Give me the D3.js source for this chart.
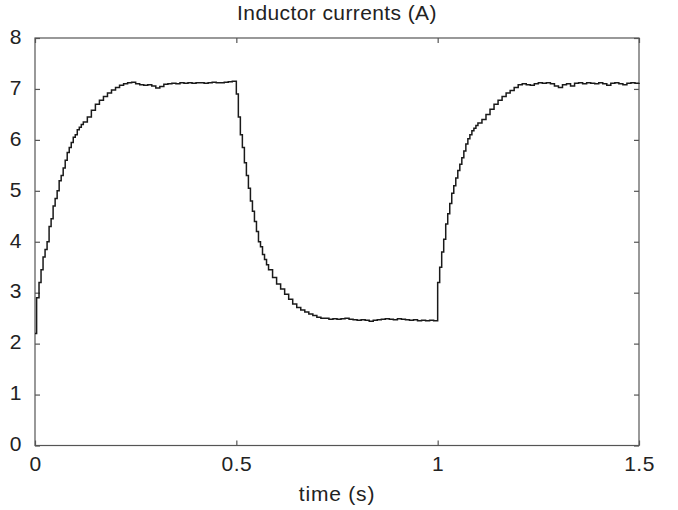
<!DOCTYPE html>
<html>
<head>
<meta charset="utf-8">
<script src="https://cdn.jsdelivr.net/npm/d3@7"></script>
<style>
  body { margin: 0; background: #fff; }
  #chart { width: 678px; height: 510px; }
  text { font-family: "Liberation Sans", Arial, sans-serif; fill: #222; }
</style>
</head>
<body>
<div id="chart"></div>
<script>
var timeS = [
  0.000, 0.004, 0.010, 0.015, 0.020, 0.025, 0.030, 0.035, 0.040, 0.045,
  0.050, 0.055, 0.060, 0.065, 0.070, 0.075, 0.080, 0.085, 0.090, 0.095,
  0.100, 0.105, 0.110, 0.115, 0.120, 0.130, 0.140, 0.150, 0.160, 0.170,
  0.180, 0.190, 0.200, 0.210, 0.220, 0.230, 0.240, 0.250, 0.260, 0.270,
  0.280, 0.290, 0.300, 0.310, 0.320, 0.330, 0.340, 0.350, 0.360, 0.370,
  0.380, 0.390, 0.400, 0.410, 0.420, 0.430, 0.440, 0.450, 0.460, 0.470,
  0.480, 0.490, 0.500, 0.505, 0.510, 0.515, 0.520, 0.525, 0.530, 0.535,
  0.540, 0.545, 0.550, 0.555, 0.560, 0.565, 0.570, 0.575, 0.580, 0.590,
  0.600, 0.610, 0.620, 0.630, 0.640, 0.650, 0.660, 0.670, 0.680, 0.690,
  0.700, 0.710, 0.720, 0.730, 0.740, 0.750, 0.760, 0.770, 0.780, 0.790,
  0.800, 0.810, 0.820, 0.830, 0.840, 0.850, 0.860, 0.870, 0.880, 0.890,
  0.900, 0.910, 0.920, 0.930, 0.940, 0.950, 0.960, 0.970, 0.980, 0.990,
  1.000, 1.005, 1.010, 1.015, 1.020, 1.025, 1.030, 1.035, 1.040, 1.045,
  1.050, 1.055, 1.060, 1.065, 1.070, 1.075, 1.080, 1.085, 1.090, 1.095,
  1.100, 1.110, 1.120, 1.130, 1.140, 1.150, 1.160, 1.170, 1.180, 1.190,
  1.200, 1.210, 1.220, 1.230, 1.240, 1.250, 1.260, 1.270, 1.280, 1.290,
  1.300, 1.310, 1.320, 1.330, 1.340, 1.350, 1.360, 1.370, 1.380, 1.390,
  1.400, 1.410, 1.420, 1.430, 1.440, 1.450, 1.460, 1.470, 1.480, 1.490,
  1.500
];
var currentA = [
  2.20, 2.90, 3.20, 3.45, 3.70, 3.85, 4.00, 4.30, 4.45, 4.70,
  4.85, 5.00, 5.20, 5.30, 5.45, 5.60, 5.75, 5.85, 5.95, 6.05,
  6.10, 6.20, 6.25, 6.30, 6.35, 6.45, 6.58, 6.70, 6.78, 6.85,
  6.92, 6.98, 7.03, 7.07, 7.10, 7.12, 7.13, 7.10, 7.08, 7.07,
  7.08, 7.06, 7.02, 7.05, 7.09, 7.10, 7.11, 7.10, 7.12, 7.11,
  7.12, 7.11, 7.12, 7.12, 7.11, 7.12, 7.13, 7.12, 7.12, 7.13,
  7.14, 7.15, 6.90, 6.45, 6.10, 5.85, 5.55, 5.30, 5.05, 4.80,
  4.60, 4.40, 4.20, 4.00, 3.90, 3.75, 3.65, 3.55, 3.45, 3.30,
  3.17, 3.07, 2.97, 2.87, 2.78, 2.71, 2.66, 2.62, 2.58, 2.55,
  2.52, 2.50, 2.50, 2.48, 2.49, 2.48, 2.49, 2.50, 2.48, 2.47,
  2.46, 2.47, 2.46, 2.44, 2.46, 2.47, 2.48, 2.49, 2.48, 2.47,
  2.49, 2.48, 2.47, 2.46, 2.47, 2.45, 2.46, 2.45, 2.46, 2.45,
  3.20, 3.50, 3.80, 4.05, 4.35, 4.55, 4.75, 4.95, 5.10, 5.25,
  5.40, 5.52, 5.65, 5.78, 5.92, 6.02, 6.10, 6.18, 6.23, 6.28,
  6.33, 6.40, 6.50, 6.60, 6.70, 6.78, 6.85, 6.92, 6.97, 7.03,
  7.08, 7.10, 7.08, 7.07, 7.10, 7.12, 7.11, 7.12, 7.10, 7.06,
  7.03, 7.08, 7.10, 7.06, 7.11, 7.12, 7.10, 7.12, 7.11, 7.10,
  7.12, 7.10, 7.07, 7.11, 7.12, 7.10, 7.08, 7.11, 7.12, 7.11,
  7.12
];

var xTicks = [0, 0.5, 1, 1.5];
var xTickLabels = ["0", "0.5", "1", "1.5"];
var yTicks = [0, 1, 2, 3, 4, 5, 6, 7, 8];

var chartTitle = "Inductor currents (A)";
var xTitle = "time (s)";

var width = 678, height = 510;
var margin = {top: 38, right: 39, bottom: 64.5, left: 35};
var w = width - margin.left - margin.right;
var h = height - margin.top - margin.bottom;

var svg = d3.select("#chart")
  .append("svg")
  .attr("width", width)
  .attr("height", height);

var g = svg.append("g")
  .attr("transform", "translate(" + margin.left + "," + margin.top + ")");

var xScale = d3.scaleLinear().domain([0, 1.5]).range([0, w]);
var yScale = d3.scaleLinear().domain([0, 8]).range([h, 0]);

var data = timeS.map(function (t, i) { return {t: t, v: currentA[i]}; });

// frame
g.append("rect")
  .attr("x", 0).attr("y", 0)
  .attr("width", w).attr("height", h)
  .attr("fill", "none")
  .attr("stroke", "#555")
  .attr("stroke-width", 1.2);

// axes, ticks pointing inward like matlab
var xAxis = d3.axisBottom(xScale).tickValues(xTicks)
  .tickFormat(function (d, i) { return xTickLabels[i]; })
  .tickSize(-5).tickPadding(11);
var yAxis = d3.axisLeft(yScale).tickValues(yTicks)
  .tickFormat(d3.format("d"))
  .tickSize(-5).tickPadding(13);

var gx = g.append("g").attr("transform", "translate(0," + h + ")").call(xAxis);
var gy = g.append("g").call(yAxis);
g.append("g").call(d3.axisTop(xScale).tickValues(xTicks).tickSize(-5).tickFormat(""));
g.append("g").attr("transform", "translate(" + w + ",0)")
  .call(d3.axisRight(yScale).tickValues(yTicks).tickSize(-5).tickFormat(""));

g.selectAll(".domain").remove();
g.selectAll(".tick line").attr("stroke", "#555").attr("stroke-width", 1.2);
g.selectAll(".tick text")
  .style("font-size", "21px")
  .style("font-family", "'Liberation Sans', Arial, sans-serif")
  .style("letter-spacing", "0.5px")
  .attr("fill", "#222");
gy.selectAll(".tick text").attr("dy", "0.25em");

// the current trace, sample-and-hold look
var line = d3.line()
  .x(function (d) { return xScale(d.t); })
  .y(function (d) { return yScale(d.v); })
  .curve(d3.curveStepAfter);

g.append("path")
  .datum(data)
  .attr("fill", "none")
  .attr("stroke", "#1a1a1a")
  .attr("stroke-width", 1.5)
  .attr("d", line);

svg.append("text")
  .attr("x", margin.left + w / 2)
  .attr("y", 20)
  .attr("text-anchor", "middle")
  .style("font-size", "21px")
  .style("letter-spacing", "0.4px")
  .text(chartTitle);

svg.append("text")
  .attr("x", margin.left + w / 2)
  .attr("y", 501)
  .attr("text-anchor", "middle")
  .style("font-size", "21px")
  .style("letter-spacing", "0.8px")
  .text(xTitle);
</script>
</body>
</html>
